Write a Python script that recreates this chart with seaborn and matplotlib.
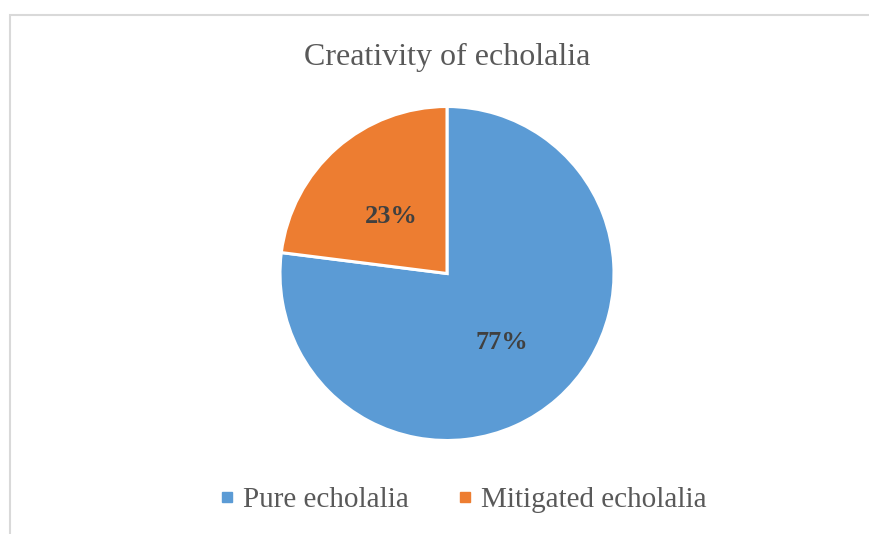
import matplotlib
matplotlib.use("Agg")
import matplotlib.pyplot as plt
import matplotlib.transforms as mtransforms
import seaborn as sns
from matplotlib.lines import Line2D
from matplotlib.patches import Rectangle

# data
categories = ["Pure echolalia", "Mitigated echolalia"]
shares = [77, 23]
colors = ["#5B9BD5", "#ED7D31"]
title = "Creativity of echolalia"

sns.set_theme(style="white")
plt.rcParams['font.family'] = ['Liberation Serif', 'DejaVu Serif']

W, H = 870, 534
fig = plt.figure(figsize=(W / 100, H / 100), dpi=100)

# pie axes placed in pixels: centre (447, 273.5), radius 167
cx, cy, r = 447, 273.5, 167
ax = fig.add_axes([(cx - r) / W, (H - cy - r) / H, 2 * r / W, 2 * r / H])
wedges, _, autotexts = ax.pie(
    shares, colors=colors, startangle=90, counterclock=False,
    autopct=lambda p: f"{p:.0f}%", pctdistance=0.5,
    wedgeprops=dict(edgecolor="white", linewidth=2.2),
    textprops=dict(fontsize=19, fontweight="bold", color="#404040"),
)
# nudge percentage labels a little lower, like the original
shift = mtransforms.offset_copy(ax.transData, fig=fig, y=-6, units="dots")
for t in autotexts:
    t.set_transform(shift)
ax.set_xlim(-1, 1)
ax.set_ylim(-1, 1)
ax.set_aspect("equal")
ax.axis("off")

fig.text(cx / W, 1 - 57 / H, title, ha="center", va="center",
         fontsize=23, color="#595959")

handles = [Line2D([0], [0], marker="s", linestyle="none", markersize=7.5,
                  markerfacecolor=c, markeredgecolor=c) for c in colors]
fig.legend(handles, categories, loc="center", bbox_to_anchor=(461 / W, 1 - 500 / H),
           ncol=2, frameon=False, fontsize=21, labelcolor="#595959",
           handletextpad=0.15, columnspacing=1.55, handlelength=0.8)

# light frame around chart area
fig.patches.append(Rectangle((10 / W, -0.05), 1.0, 1 - 15 / H + 0.05,
                             transform=fig.transFigure, fill=False,
                             edgecolor="#d9d9d9", linewidth=1.5))

fig.savefig("out.png", dpi=100, facecolor="white")
